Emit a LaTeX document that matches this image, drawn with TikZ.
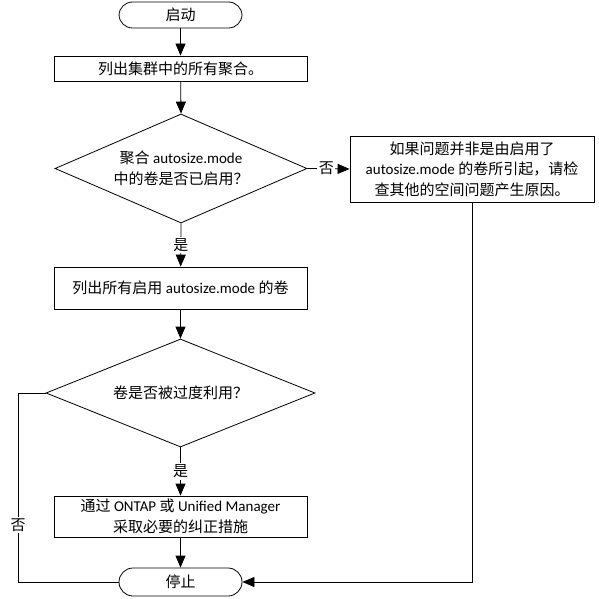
\documentclass[tikz,border=0pt]{standalone}
\usepackage{fontspec}
\setmainfont{Carlito}
\newfontfamily\cjk{Noto Sans CJK SC}
\usetikzlibrary{shapes.geometric,arrows.meta}
\begin{document}
\begin{tikzpicture}[x=1pt,y=-1pt,
  base/.style={draw=black,line width=0.8pt,fill=white,align=center,inner sep=0pt,font=\fontsize{15}{20.5}\selectfont},
  term/.style={base,rectangle,minimum width=123pt,rounded corners=13.5pt},
  proc/.style={base,rectangle,minimum width=253pt},
  dec/.style={base,diamond},
  txt/.style={align=center,inner sep=0pt,font=\fontsize{15}{20.5}\selectfont},
  lbl/.style={fill=white,inner sep=1.5pt,font=\fontsize{15}{18}\selectfont\cjk},
  arr/.style={-{Triangle[length=12pt,width=10pt]},line width=0.8pt},
  ln/.style={line width=0.8pt}]
\useasboundingbox (0,0) rectangle (598,599);
\node[term,minimum height=26pt] (start) at (180.5,15) {\cjk 启动};
\node[proc,minimum height=25pt] (b1) at (180.5,68.5) {\cjk 列出集群中的所有聚合。};
\node[dec,minimum width=252pt,minimum height=109pt] (d1) at (181,168.5) {};
\node[txt] (d1t) at (181,168.5) {{\cjk 聚合} autosize.mode\\{\cjk 中的卷是否已启用？}};
\node[proc,minimum width=244pt,minimum height=66pt] (rb) at (472,169) {{\cjk 如果问题并非是由启用了}\\autosize.mode {\cjk 的卷所引起，请检}\\{\cjk 查其他的空间问题产生原因。}};
\node[proc,minimum height=42pt] (b2) at (180.5,288) {{\cjk 列出所有启用} autosize.mode {\cjk 的卷}};
\node[dec,minimum width=269pt,minimum height=108pt] (d2) at (180.5,393) {};
\node[txt] (d2t) at (180.5,393) {\cjk 卷是否被过度利用？};
\node[proc,minimum height=41pt] (b3) at (180.5,516.5) {{\cjk 通过} ONTAP {\cjk 或} Unified Manager\\{\cjk 采取必要的纠正措施}};
\node[term,minimum height=28pt,rounded corners=14pt] (stop) at (180.5,582) {\cjk 停止};
\coordinate (lc1) at (18,393);
\coordinate (lc2) at (18,582);
\coordinate (rc) at (472,582);
\draw[arr] (start) -- (b1);
\draw[arr] (b1) -- (d1.north);
\draw[arr] (d1.south) -- node[lbl] {是} (b2);
\draw[arr] (d1.east) -- node[lbl,pos=0.45] {否} (rb.west);
\draw[arr] (b2) -- (d2.north);
\draw[arr] (d2.south) -- node[lbl] {是} (b3);
\draw[arr] (b3) -- (stop);
\draw[ln] (d2.west) -- (lc1) -- node[lbl,pos=0.7] {否} (lc2) -- (stop.west);
\draw[arr] (rb.south) -- (rc) -- (stop.east);
\end{tikzpicture}
\end{document}
